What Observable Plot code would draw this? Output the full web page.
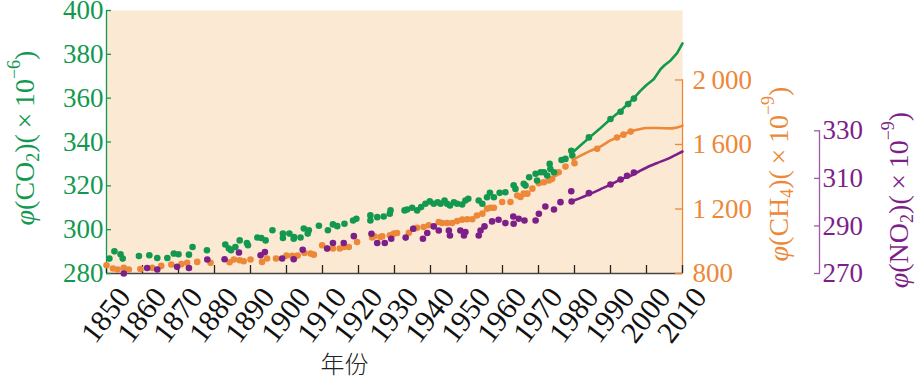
<!DOCTYPE html>
<html><head><meta charset="utf-8">
<script src="https://cdn.jsdelivr.net/npm/d3@7"></script>
<script src="https://cdn.jsdelivr.net/npm/@observablehq/plot@0.6"></script>
<style>html,body{margin:0;padding:0;background:#fff} svg{display:block}</style>
</head><body><div id="chart"></div>
<script>
// ---------- data ----------
const xTicks = [1850,1860,1870,1880,1890,1900,1910,1920,1930,1940,1950,1960,1970,1980,1990,2000,2010];
const co2Ticks = [280,300,320,340,360,380,400];
const ch4Ticks = [800,1200,1600,2000];
const no2Ticks = [270,290,310,330];

const co2DotYears = [1850.8,1852.2,1853.9,1854.5,1859,1861.9,1864.1,1866.9,1868.7,1870,1872.9,1873.9,1877.9,1883,1884,1884.6,1885.8,1887,1889,1889.3,1891.9,1893,1894.2,1896.1,1899,1899,1900.8,1902.1,1902,1903.9,1904.8,1906.2,1905.9,1909,1911.5,1912.9,1914.1,1916.1,1918.5,1919.4,1923.3,1923.3,1925.2,1927,1928.9,1928.7,1932.8,1933.5,1934.9,1936.3,1937.4,1938.6,1939.8,1940.9,1942,1942.8,1943.9,1944.6,1945.4,1946.5,1947.4,1948.8,1949.7,1950.5,1953.4,1954.4,1955.7,1956.5,1957.6,1959.2,1960.8,1963.1,1963.6,1965.9,1966.4,1967.4,1969.2,1969.6,1970.6,1971.5,1972.4,1973.1,1973.3,1974.3,1976.4,1977.5,1979.1,1979.4,1984,1990,1992.8,1994.9,1996.5];
const co2DotVals  = [286.8,290.1,288.8,286.8,288,288.3,287.1,287.1,289.1,288.8,288.6,292.1,290.6,293.2,291.4,290.6,292.1,295.1,293.9,292.9,296.4,296.2,295.1,299.7,298.2,296.2,298.2,296.6,295.9,296.4,300.5,299.7,298.2,301.8,299.7,302.4,301.6,302.7,304.2,305,306.5,304.2,305.7,306,308.8,307.3,308.8,309.2,310,308.8,310.3,311.8,312.9,311.8,312.5,311.8,313.3,311.8,311,312.5,311.8,311.5,313.3,314.1,313.3,311.8,314.8,316.8,314.8,316.8,317.1,320.3,318.6,320.9,320.1,323.9,325.5,322.4,326.2,326.2,324.7,330,327.7,326.2,331.8,332.3,336,333.8,342.1,350.5,353.8,357.3,359.8];
const co2LineYears = [1979,1981.7,1984.2,1987,1990,1993,1996.5,1998.3,2000,2002,2003.9,2005,2006.7,2008.5,2010];
const co2LineVals  = [334.5,338.5,342.1,346,350.5,354.5,360,363.3,366,368.6,373.2,375,377.2,380.5,385];

const ch4DotYears = [1850,1851.8,1853.1,1854.8,1856.2,1859.4,1862.7,1865.2,1868,1870.8,1872.4,1875.2,1878.9,1884.2,1885.4,1887,1888.1,1890,1893.2,1894.6,1897.1,1900,1901.6,1903.1,1905,1906.7,1907.6,1909.9,1911.3,1912.9,1914.8,1915.9,1917.3,1919.6,1923.8,1924.4,1926.1,1926.6,1928.7,1929.8,1930.7,1934,1935.4,1936.3,1938.1,1939.5,1942.3,1943.2,1944.6,1946,1947.4,1948.8,1950.2,1951.6,1952.9,1954.4,1955.7,1956.7,1957.6,1959.9,1962.2,1964.1,1965,1965.9,1966.9,1968.3,1970.1,1971.5,1972.9,1973.8,1974.7,1975.6,1977.5,1980,1986.3,1991.8,1993.6,1995.6];
const ch4DotVals  = [851,831,825,835,825,828,835,847,856,858,866,872,866,870,887,882,876,887,872,893,893,911,909,911,927,924,917,975,955,955,955,964,964,995,1023,1031,1026,1031,1037,1047,1051,1053,1078,1084,1088,1099,1119,1113,1113,1113,1125,1134,1136,1136,1160,1171,1202,1208,1208,1243,1243,1284,1274,1295,1295,1326,1360,1366,1377,1387,1418,1428,1463,1484,1573,1643,1661,1680];
const ch4LineYears = [1979.5,1981.7,1984.4,1987,1990,1993,1995.6,1998,2000,2003,2006.7,2008.5,2010];
const ch4LineVals  = [1505,1531,1560,1585,1625,1655,1680,1695,1702,1702,1700,1705,1717];

const no2DotYears = [1854.8,1861.3,1864.1,1869.6,1872.9,1878,1882.8,1886.8,1892.8,1894,1898.8,1902,1904.5,1911.3,1912.9,1915.9,1918.7,1923.6,1925.2,1927.3,1929.1,1933.1,1935.2,1937.9,1939.1,1940.9,1942.3,1945.1,1945.4,1948.3,1949.3,1949.7,1953.4,1953.9,1955,1957.1,1958.9,1960.8,1963,1963.1,1964.5,1966.1,1969.2,1970.1,1971.9,1974.3,1976.1,1979.1,1979.2,1984,1990,1992.8,1994.6,1996.5];
const no2DotVals  = [270,272.3,271.7,272.8,272.3,275.9,276,278.8,277.7,279,276.3,276,280,280.5,282.8,282.8,285.7,286.7,282.8,282.8,284.6,285.1,288.8,284.6,287,289.8,288.1,288.1,286,288.1,286,287.4,286,288.1,289.8,291.9,292.6,291.2,294,290.9,293,292.3,292.3,295.1,298.2,296.9,300,304.6,300.3,303.8,307.4,309.5,311.1,312.5];
const no2LineYears = [1979.8,1984.4,1987,1990,1993,1995.6,1998,2001.1,2003,2005.7,2008,2010];
const no2LineVals  = [300.7,303.5,305.3,307.4,309.7,311.1,313,315.3,316.5,318.1,319.8,321.3];

// ---------- styling ----------
const GREEN = "#12994f", ORANGE = "#ec8838", PURPLE = "#7d1f89", PURPLE_AX = "#9d5aa8";
const BG = "#fce9d3";
const SERIF = "'Liberation Serif','DejaVu Serif',serif";

// secondary scales mapped onto the CO2 (left) axis
const ch4ToY = d3.scaleLinear([800, 2000], [280, 368.3]);
const no2ToY = d3.scaleLinear([270, 330], [280, 345.1]);

const pts = (xs, ys, f = v => v) => xs.map((x, i) => ({x, y: f(ys[i])}));
const co2Dots = pts(co2DotYears, co2DotVals), co2Line = pts(co2LineYears, co2LineVals);
const ch4Dots = pts(ch4DotYears, ch4DotVals, ch4ToY), ch4Line = pts(ch4LineYears, ch4LineVals, ch4ToY);
const no2Dots = pts(no2DotYears, no2DotVals, no2ToY), no2Line = pts(no2LineYears, no2LineVals, no2ToY);

const fmtCH4 = v => { const n = Math.round(ch4ToY.invert(v)); return n >= 1000 ? Math.floor(n/1000) + "\u2009" + String(n % 1000).padStart(3, "0") : String(n); };
const fmtNO2 = v => String(Math.round(no2ToY.invert(v)));

const R = 3.3;
const chart = Plot.plot({
  width: 922, height: 378,
  marginLeft: 106, marginRight: 240, marginTop: 10, marginBottom: 105,
  style: {fontFamily: SERIF, fontSize: "27px", background: "#fff", overflow: "visible"},
  x: {domain: [1850, 2010], axis: null},
  y: {domain: [280, 400], axis: null},
  marks: [
    Plot.frame({fill: BG, stroke: null}),
    // axis lines
    Plot.ruleY([co2Ticks[0]], {x1: xTicks[0], x2: xTicks[xTicks.length-1], stroke: "#444", strokeWidth: 1.3}),
    Plot.ruleX([xTicks[0]], {y1: co2Ticks[0], y2: co2Ticks[co2Ticks.length-1], stroke: GREEN, strokeWidth: 1.3}),
    Plot.ruleX([xTicks[xTicks.length-1]], {y1: ch4ToY(ch4Ticks[0]), y2: ch4ToY(ch4Ticks[ch4Ticks.length-1]), stroke: ORANGE, strokeWidth: 1.3}),
    Plot.ruleX([xTicks[xTicks.length-1]], {y1: no2ToY(no2Ticks[0]), y2: no2ToY(no2Ticks[no2Ticks.length-1]), dx: 137, stroke: PURPLE_AX, strokeWidth: 1.3}),
    // axes
    Plot.axisX(xTicks, {anchor: "bottom", tickSize: -8, text: null, label: null, color: "#222", strokeWidth: 1.3}),
    Plot.text(xTicks, {x: d => d, frameAnchor: "bottom", text: d => String(d), rotate: -52, textAnchor: "end", lineAnchor: "middle", dx: 18, dy: 18, fontSize: 30, fill: "#111"}),
    Plot.axisY(co2Ticks, {anchor: "left", tickSize: -5, tickPadding: 8, label: null, color: GREEN, strokeWidth: 1.3, fontSize: 27}),
    Plot.axisY(ch4Ticks.map(ch4ToY), {anchor: "right", tickSize: -8, tickPadding: 18, label: null, tickFormat: fmtCH4, color: ORANGE, strokeWidth: 1.3, fontSize: 27}),
    Plot.axisY(no2Ticks.map(no2ToY), {anchor: "right", dx: 137, tickSize: -6, tickPadding: 9, label: null, tickFormat: fmtNO2, color: PURPLE, stroke: PURPLE_AX, strokeWidth: 1.3, fontSize: 27}),
    // data
    Plot.dot(ch4Dots, {x: "x", y: "y", r: R, fill: ORANGE}),
    Plot.dot(no2Dots, {x: "x", y: "y", r: R, fill: PURPLE}),
    Plot.dot(co2Dots, {x: "x", y: "y", r: R, fill: GREEN}),
    Plot.line(ch4Line, {x: "x", y: "y", stroke: ORANGE, strokeWidth: 2.6, curve: "monotone-x"}),
    Plot.line(no2Line, {x: "x", y: "y", stroke: PURPLE, strokeWidth: 2.6, curve: "monotone-x"}),
    Plot.line(co2Line, {x: "x", y: "y", stroke: GREEN, strokeWidth: 2.6, curve: "linear"}),
    Plot.text(["年份"], {frameAnchor: "bottom", dx: -50, dy: 99, fontFamily: "'Noto Sans CJK SC',sans-serif", fontWeight: 300, fontSize: 24, fill: "#222"})
  ]
});
document.getElementById("chart").append(chart);

// rotated axis titles with sub/superscripts
const svg = d3.select(chart);
function yTitle(x, y, color, sub, sup) {
  const t = svg.append("text")
    .attr("transform", `translate(${x},${y}) rotate(-90)`)
    .attr("text-anchor", "middle").attr("dominant-baseline", "middle")
    .attr("fill", color).attr("font-family", SERIF).attr("font-size", 28);
  t.append("tspan").attr("font-style", "italic").text("φ");
  t.append("tspan").text(sub[0]);
  t.append("tspan").attr("font-size", 18).attr("dy", 7).text(sub[1]);
  t.append("tspan").attr("dy", -7).text(")(\u2009×\u200910");
  t.append("tspan").attr("font-size", 18).attr("dy", -12).text(sup);
  t.append("tspan").attr("dy", 12).text(")");
}
yTitle(28, 138, GREEN, ["(CO", "2"], "−6");
yTitle(782, 174, ORANGE, ["(CH", "4"], "−9");
yTitle(902, 200, PURPLE, ["(NO", "2"], "−9");
</script></body></html>
